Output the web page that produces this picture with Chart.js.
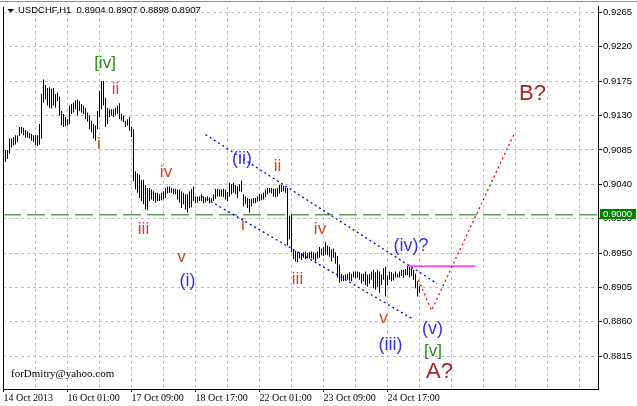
<!DOCTYPE html>
<html><head><meta charset="utf-8">
<script src="https://cdn.jsdelivr.net/npm/chart.js@4"></script>
<style>html,body{margin:0;padding:0;background:#fff;}canvas{display:block;}</style>
</head><body>
<canvas id="c" width="637" height="406"></canvas>
<script>
// ---- data (USDCHF H1, bar index 0..207) ----
const highs = [
0.9085,0.9085,0.9100,0.9100,0.9102,0.9104,0.9104,0.9115,0.9115,0.9114,
0.9111,0.9109,0.9107,0.9106,0.9104,0.9104,0.9104,0.9119,0.9158,0.9177,
0.9170,0.9166,0.9167,0.9165,0.9166,0.9158,0.9160,0.9155,0.9136,0.9132,
0.9128,0.9125,0.9143,0.9145,0.9147,0.9150,0.9151,0.9149,0.9145,0.9143,
0.9140,0.9134,0.9130,0.9123,0.9119,0.9117,0.9136,0.9162,0.9175,0.9175,
0.9153,0.9140,0.9138,0.9138,0.9138,0.9140,0.9143,0.9146,0.9132,0.9130,
0.9123,0.9125,0.9128,0.9115,0.9112,0.9057,0.9054,0.9052,0.9046,0.9046,
0.9039,0.9035,0.9035,0.9033,0.9031,0.9029,0.9029,0.9027,0.9029,0.9031,
0.9035,0.9037,0.9037,0.9035,0.9034,0.9034,0.9033,0.9033,0.9031,0.9029,
0.9027,0.9027,0.9031,0.9034,0.9037,0.9024,0.9024,0.9024,0.9027,0.9024,
0.9023,0.9024,0.9023,0.9022,0.9027,0.9034,0.9034,0.9033,0.9033,0.9034,
0.9033,0.9030,0.9042,0.9040,0.9042,0.9039,0.9037,0.9040,0.9045,0.9027,
0.9024,0.9022,0.9021,0.9021,0.9022,0.9022,0.9024,0.9027,0.9027,0.9029,
0.9033,0.9035,0.9035,0.9035,0.9034,0.9034,0.9035,0.9039,0.9039,0.9038,
0.9036,0.9035,0.8999,0.9001,0.8955,0.8953,0.8951,0.8951,0.8950,0.8951,
0.8952,0.8950,0.8951,0.8952,0.8951,0.8950,0.8952,0.8958,0.8956,0.8958,
0.8964,0.8960,0.8958,0.8955,0.8956,0.8951,0.8946,0.8935,0.8923,0.8921,
0.8922,0.8923,0.8925,0.8923,0.8926,0.8926,0.8926,0.8925,0.8923,0.8923,
0.8926,0.8922,0.8923,0.8926,0.8928,0.8925,0.8928,0.8926,0.8922,0.8930,
0.8932,0.8921,0.8926,0.8925,0.8923,0.8926,0.8923,0.8926,0.8928,0.8928,
0.8929,0.8933,0.8932,0.8930,0.8928,0.8923,0.8913,0.8907
];
const lows = [
0.9069,0.9073,0.9080,0.9088,0.9091,0.9092,0.9095,0.9103,0.9106,0.9104,
0.9101,0.9101,0.9100,0.9097,0.9095,0.9091,0.9090,0.9092,0.9100,0.9147,
0.9151,0.9143,0.9140,0.9139,0.9143,0.9140,0.9149,0.9130,0.9117,0.9115,
0.9116,0.9117,0.9119,0.9132,0.9134,0.9138,0.9130,0.9136,0.9134,0.9132,
0.9125,0.9122,0.9112,0.9108,0.9100,0.9097,0.9112,0.9128,0.9138,0.9143,
0.9115,0.9119,0.9128,0.9130,0.9128,0.9130,0.9132,0.9125,0.9123,0.9121,
0.9115,0.9117,0.9110,0.9102,0.9044,0.9033,0.9029,0.9022,0.9018,0.9014,
0.9007,0.9006,0.9018,0.9020,0.9018,0.9016,0.9018,0.9018,0.9019,0.9020,
0.9022,0.9028,0.9029,0.9029,0.9027,0.9027,0.9020,0.9016,0.9009,0.9014,
0.9007,0.9003,0.9009,0.9010,0.9018,0.9015,0.9016,0.9018,0.9018,0.9015,
0.9016,0.9018,0.9015,0.9016,0.9018,0.9021,0.9024,0.9024,0.9024,0.9023,
0.9020,0.9018,0.9024,0.9027,0.9029,0.9027,0.9022,0.9031,0.9030,0.9011,
0.9014,0.9009,0.9003,0.9011,0.9015,0.9015,0.9017,0.9018,0.9019,0.9020,
0.9023,0.9027,0.9029,0.9028,0.9024,0.9023,0.9024,0.9028,0.9030,0.9031,
0.9029,0.8960,0.8968,0.8951,0.8942,0.8939,0.8938,0.8943,0.8941,0.8944,
0.8942,0.8944,0.8943,0.8943,0.8942,0.8939,0.8943,0.8944,0.8947,0.8946,
0.8948,0.8947,0.8945,0.8939,0.8944,0.8936,0.8918,0.8911,0.8913,0.8913,
0.8915,0.8915,0.8914,0.8913,0.8918,0.8917,0.8918,0.8915,0.8910,0.8913,
0.8908,0.8906,0.8910,0.8915,0.8904,0.8902,0.8906,0.8898,0.8908,0.8915,
0.8893,0.8908,0.8915,0.8913,0.8914,0.8918,0.8918,0.8918,0.8920,0.8918,
0.8921,0.8921,0.8918,0.8920,0.8915,0.8904,0.8893,0.8898
];
const xTickBars   = [-1, 31, 63, 95, 127, 159, 191];
const xTickLabels = ['14 Oct 2013','16 Oct 01:00','17 Oct 09:00','18 Oct 17:00','22 Oct 01:00','23 Oct 09:00','24 Oct 17:00'];
const yTicks = [0.8815,0.8860,0.8905,0.8950,0.8995,0.9040,0.9085,0.9130,0.9175,0.9220,0.9265];
const levelPrice = 0.9000;
const channelUpper = [[100, 0.9105], [215.85, 0.8910]];
const channelLower = [[98.35, 0.9024], [204.15, 0.8863]];
const projection   = [[206.5, 0.8915], [213, 0.8875], [254.5, 0.9107]];
const resistance   = [[201.5, 0.8933], [235, 0.8933]];
// wave labels: [text, bar index, price, degree]
const waveLabels = [
  ['[iv]', 49.75, 0.9198, 'green'],
  ['ii',   55,    0.9164, 'minor'],
  ['i',    46.75, 0.9092, 'minor'],
  ['iv',   80.25, 0.9056, 'minor'],
  ['iii',  69,    0.8981, 'minor'],
  ['v',    88,    0.8945, 'minor'],
  ['(i)',  91,    0.8914, 'minute'],
  ['(ii)', 118.25,0.9073, 'minute'],
  ['ii',   136,   0.9064, 'minor'],
  ['i',    118.75,0.8986, 'minor'],
  ['iv',   157.25,0.8981, 'minor'],
  ['iii',  146,   0.8916, 'minor'],
  ['v',    189,   0.8864, 'minor'],
  ['(iii)',192.5, 0.8830, 'minute'],
  ['(iv)?',202.75,0.8959, 'minute'],
  ['(v)',  213.5, 0.8851, 'minute'],
  ['[v]',  213.75,0.8822, 'green'],
  ['A?',   217,   0.8794, 'primary'],
  ['B?',   263.5, 0.9158, 'primary']
];
const titleText = 'USDCHF,H1  0.8904 0.8907 0.8898 0.8907';
const signText = 'forDmitry@yahoo.com';

// ---- styles ----
const degreeStyle = {
  minor:   {color:'#c84a28', size:17},
  minute:  {color:'#3535f0', size:18},
  green:   {color:'#2a8a14', size:17},
  primary: {color:'#a0282a', size:22}
};
const xLabelMap = {};
xTickBars.forEach((b, k) => { xLabelMap[b] = xTickLabels[k]; });
const gridBars = [];
for (let b = -1; b <= 290; b += 16) gridBars.push(b);

const pts = arr => arr.map(p => ({x: p[0], y: p[1]}));
const lineDs = (data, color, dash, width, order) => ({
  type:'line', data: pts(data), borderColor: color, borderWidth: width, borderDash: dash,
  pointRadius: 0, tension: 0, fill: false, order: order
});

const overlay = {
  id: 'overlay',
  afterDraw(chart) {
    const ctx = chart.ctx, a = chart.chartArea;
    const xs = chart.scales.x, ys = chart.scales.y;
    ctx.save();
    // frame
    ctx.strokeStyle = '#000'; ctx.lineWidth = 1;
    ctx.beginPath(); ctx.moveTo(3.5, a.top); ctx.lineTo(3.5, a.bottom); ctx.stroke();
    ctx.strokeStyle = '#909090';
    ctx.beginPath(); ctx.moveTo(0, 1.5); ctx.lineTo(637, 1.5); ctx.stroke();
    // wave labels
    ctx.textAlign = 'center'; ctx.textBaseline = 'middle';
    waveLabels.forEach(([t, b, p, d]) => {
      const st = degreeStyle[d];
      ctx.fillStyle = st.color;
      ctx.font = st.size + 'px "Liberation Sans", Arial, sans-serif';
      ctx.fillText(t, xs.getPixelForValue(b), ys.getPixelForValue(p));
    });
    // title
    ctx.fillStyle = '#000';
    ctx.beginPath(); ctx.moveTo(7.5, 9); ctx.lineTo(14, 9); ctx.lineTo(10.75, 12.5); ctx.closePath(); ctx.fill();
    ctx.textAlign = 'left';
    ctx.font = '9.5px "Liberation Sans", Arial, sans-serif';
    ctx.fillText(titleText, 18, 10.5);
    ctx.font = '11px "Liberation Serif", serif';
    ctx.fillText(signText, 11, 374);
    // price box
    const py = ys.getPixelForValue(levelPrice);
    ctx.fillStyle = '#008000';
    ctx.fillRect(600, Math.round(py) - 6, 36, 10);
    ctx.fillStyle = '#fff';
    ctx.font = '9.5px "Liberation Sans", Arial, sans-serif';
    ctx.fillText(levelPrice.toFixed(4), 603, Math.round(py) - 0.5);
    ctx.restore();
  }
};

new Chart(document.getElementById('c'), {
  type: 'bar',
  data: {
    datasets: [
      lineDs(channelUpper, '#0000ff', [2,3], 1.3, 1),
      lineDs(channelLower, '#0000ff', [2,3], 1.3, 1),
      lineDs(projection, '#ff0000', [2,3], 1.3, 1),
      lineDs(resistance, '#ff00ff', [], 1.3, 1),
      lineDs([[-1.25, levelPrice], [296.25, levelPrice]], '#0a730a', [18,6], 1, 2),
      {
        type:'bar', data: highs.map((h, i) => ({x: i, y: [lows[i], h]})),
        backgroundColor:'#000', borderWidth:0, barThickness:1, inflateAmount:0,
        grouped:false, order:10
      }
    ]
  },
  options: {
    responsive:false, animation:false, devicePixelRatio:1,
    layout:{padding:{left:3, top:1, right:0, bottom:0}},
    plugins:{legend:{display:false}, tooltip:{enabled:false}},
    scales:{
      x:{
        type:'linear', min:-1.25, max:296.25, offset:false,
        afterBuildTicks: s => { s.ticks = gridBars.map(v => ({value:v})); },
        afterFit: s => { s.height = 17; },
        grid:{
          offset:false, lineWidth:1, tickLength:3,
          color: c => (c.tick && c.tick.value === -1) ? 'rgba(0,0,0,0)' : '#c0c0c0',
          tickColor: c => (c.tick && xLabelMap[c.tick.value] !== undefined) ? '#000' : 'rgba(0,0,0,0)'
        },
        border:{display:true, color:'#000', width:1, dash:[3,3]},
        ticks:{
          autoSkip:false, maxRotation:0, minRotation:0, align:'start', padding:0, color:'#000',
          font:{family:'"Liberation Serif", serif', size:10},
          callback: v => (xLabelMap[v] !== undefined ? xLabelMap[v] : '')
        }
      },
      y:{
        type:'linear', position:'right', min:0.87721, max:0.927235,
        afterBuildTicks: s => { s.ticks = yTicks.map(v => ({value:v})); },
        afterFit: s => { s.width = 39; },
        grid:{color:'#c0c0c0', lineWidth:1, tickLength:4, tickColor:'#000'},
        border:{display:true, color:'#000', width:1, dash:[3,3]},
        ticks:{
          padding:1, color:'#000',
          font:{family:'"Liberation Sans", Arial, sans-serif', size:9.5},
          callback: v => Number(v).toFixed(4)
        }
      }
    }
  },
  plugins:[overlay]
});
</script>
</body></html>
